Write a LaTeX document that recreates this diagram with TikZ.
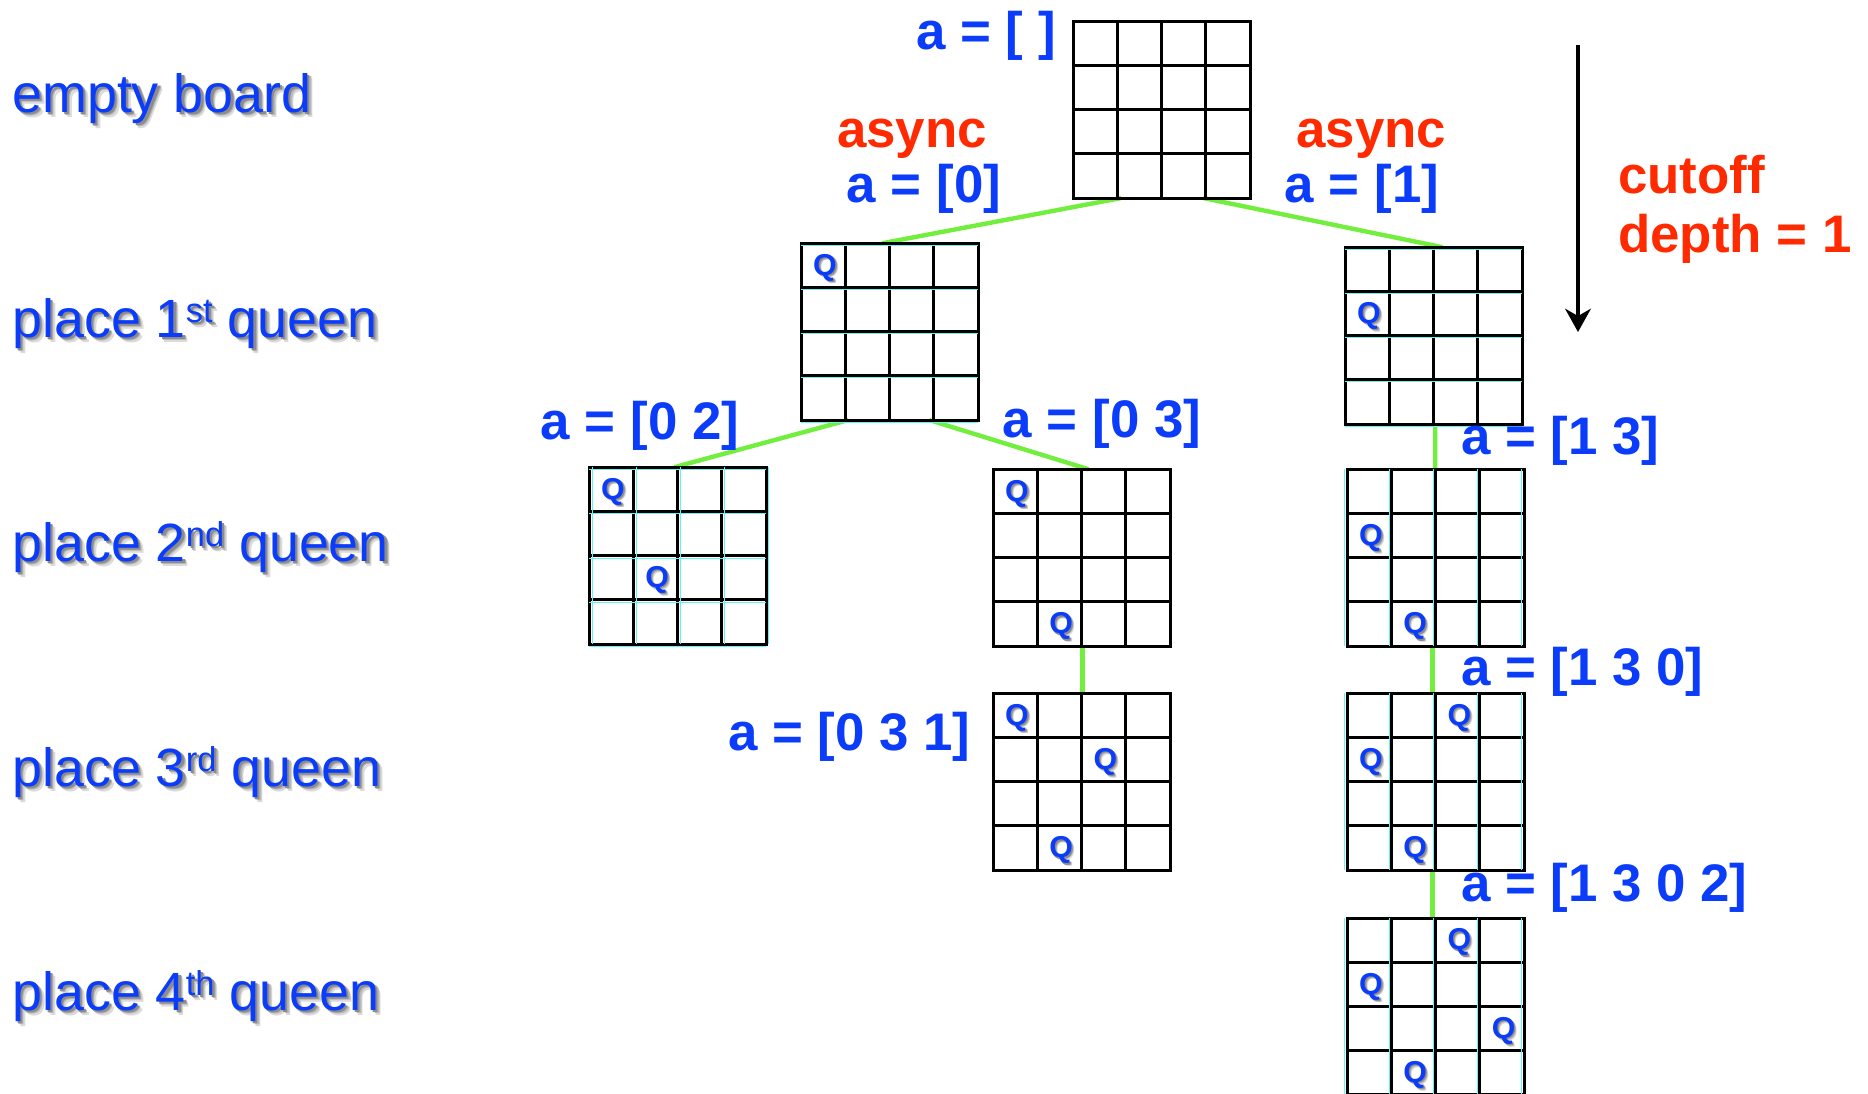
\documentclass[tikz,border=0pt]{standalone}
\usepackage{fontspec}
\setmainfont{Liberation Sans}
\usetikzlibrary{arrows.meta, calc, backgrounds}
\definecolor{qblue}{HTML}{0A3CFA}
\definecolor{hotred}{HTML}{FF2A00}
\definecolor{lime}{HTML}{72EE3E}
\definecolor{stray}{HTML}{66F2F2}

% soft drop shadow behind a piece of text
\newlength{\shoff}
\newcommand{\shadowed}[1]{%
  \rlap{\kern1.7\shoff\raisebox{-1.7\shoff}{\color{black!14}#1}}%
  \rlap{\kern1.25\shoff\raisebox{-1.25\shoff}{\color{black!28}#1}}%
  \rlap{\kern0.8\shoff\raisebox{-0.8\shoff}{\color{black!45}#1}}%
  #1}
\newcommand{\ordsup}[1]{\raisebox{10.5pt}{\fontsize{24.5}{24.5}\selectfont #1}}

\def\cell{1.105}

% a 4x4 board: name, top-left corner
\newcommand{\board}[2]{%
  \node[board] (#1) at (#2) {};
  \foreach \k in {1,2,3} {
    \draw[cellline] ($(#1.north west)+(\k*\cell,0)$) -- ($(#1.south west)+(\k*\cell,0)$);
    \draw[cellline] ($(#1.north west)+(0,-\k*\cell)$) -- ($(#1.north east)+(0,-\k*\cell)$);
  }
}
% queens on a board, given as row/col
\newcommand{\queens}[2]{%
  \foreach \r/\c in {#2}
    \node[queen] (#1q\r\c) at ($(#1.north west)+({(\c+0.5)*\cell},{-(\r+0.5)*\cell})$) {\shadowed{Q}};
}
% stray cyan copies of the grid lines
\newcommand{\strayrows}[2]{%
  \foreach \k in {0,...,4}
    \draw[strayline] ($(#1.north west)+(0,-\k*\cell)+(#2)$) -- ($(#1.north east)+(0,-\k*\cell)+(#2)$);
}
\newcommand{\straycols}[2]{%
  \foreach \k in {0,...,4}
    \draw[strayline] ($(#1.north west)+(\k*\cell,0)+(#2)$) -- ($(#1.south west)+(\k*\cell,0)+(#2)$);
}

\begin{document}
\begin{tikzpicture}[
  board/.style={draw, line width=0.075cm, minimum size=4.42cm, inner sep=0pt,
                outer sep=0pt, anchor=north west},
  cellline/.style={line width=0.075cm},
  strayline/.style={stray, line width=0.6pt},
  queen/.style={text=qblue, inner sep=0pt, xshift=0.04cm, yshift=-0.09cm,
                font=\fontsize{21.5}{21.5}\selectfont\bfseries\setlength{\shoff}{1.2pt}},
  link/.style={lime, line width=0.11cm},
  rowlabel/.style={text=qblue, anchor=base west, inner sep=0pt,
                   font=\fontsize{38.3}{44}\selectfont\setlength{\shoff}{2.1pt}},
  arr/.style={text=qblue, anchor=base, inner sep=0pt,
              font=\fontsize{37.6}{44}\selectfont\bfseries},
  note/.style={text=hotred, inner sep=0pt,
               font=\fontsize{37.6}{44}\selectfont\bfseries},
]

\clip (0,0) rectangle (46.7,-27.325);

% Row labels
\node[rowlabel] (empty) at (0.3,-2.8)    {\shadowed{empty board}};
\node[rowlabel] (place1) at (0.3,-8.425) {\shadowed{place 1\ordsup{st} queen}};
\node[rowlabel] (place2) at (0.3,-14.03) {\shadowed{place 2\ordsup{nd} queen}};
\node[rowlabel] (place3) at (0.3,-19.65) {\shadowed{place 3\ordsup{rd} queen}};
\node[rowlabel] (place4) at (0.3,-25.25) {\shadowed{place 4\ordsup{th} queen}};

% === Boards ===
\board{root}{26.83,-0.53}

\board{b0}{20.03,-6.08}
\strayrows{b0}{0,-0.05}
\queens{b0}{0/0}

\board{b1}{33.63,-6.18}
\strayrows{b1}{0,-0.05}
\queens{b1}{1/0}

\board{b02}{14.73,-11.68}
\strayrows{b02}{0,-0.06}
\straycols{b02}{0.07,0}
\queens{b02}{0/0, 2/1}

\board{b03}{24.83,-11.73}
\queens{b03}{0/0, 3/1}

\board{b13}{33.68,-11.73}
\straycols{b13}{-0.06,0}
\queens{b13}{1/0, 3/1}

\board{b031}{24.83,-17.33}
\queens{b031}{0/0, 1/2, 3/1}

\board{b130}{33.68,-17.33}
\straycols{b130}{-0.06,0}
\queens{b130}{0/2, 1/0, 3/1}

\board{b1302}{33.68,-22.95}
\straycols{b1302}{-0.06,0}
\queens{b1302}{0/2, 1/0, 2/3, 3/1}

% === Tree edges ===
\begin{pgfonlayer}{background}
  \draw[link] ($(root.south west)+(1.2,0)$) -- ($(b0.north west)+(2.03,0)$);
  \draw[link] ($(root.south west)+(3.25,0)$) -- ($(b1.north west)+(2.43,0)$);
  \draw[link] ($(b0.south west)+(1.18,0)$) -- ($(b02.north west)+(2.13,0)$);
  \draw[link] ($(b0.south west)+(3.2,0)$) -- ($(b03.north west)+(2.38,0)$);
  \draw[link] ($(b1.south west)+(2.25,0)$) -- ($(b13.north west)+(2.2,0)$);
  \draw[link] ($(b03.south west)+(2.23,0)$) -- ($(b031.north west)+(2.23,0)$);
  \draw[link] ($(b13.south west)+(2.13,0)$) -- ($(b130.north west)+(2.13,0)$);
  \draw[link] ($(b130.south west)+(2.13,0)$) -- ($(b1302.north west)+(2.13,0)$);
\end{pgfonlayer}

% === Partial solutions ===
\node[arr] (aroot) at (24.65,-1.225) {a = [ ]};
\node[note, anchor=base] (async0) at (22.8,-3.675) {async};
\node[arr] (a0) at (23.1,-5.05) {a = [0]};
\node[note, anchor=base] (async1) at (34.28,-3.675) {async};
\node[arr] (a1) at (34.05,-5.05) {a = [1]};
\node[arr] (a02) at (16.0,-10.98) {a = [0 2]};
\node[arr] (a03) at (27.55,-10.93) {a = [0 3]};
\node[arr] (a031) at (21.23,-18.75) {a = [0 3 1]};
\node[arr, anchor=base west] (a13) at (36.52,-11.35) {a = [1 3]};
\node[arr, anchor=base west] (a130) at (36.52,-17.13) {a = [1 3 0]};
\node[arr, anchor=base west] (a1302) at (36.52,-22.53) {a = [1 3 0 2]};

% === Cutoff ===
\coordinate (cuttop) at (39.45,-1.125);
\coordinate (cutbot) at (39.45,-8.3);
\draw[-{Stealth[length=5.8mm, width=6.4mm, inset=1.8mm]}, line width=0.1cm] (cuttop) -- (cutbot);
\node[note, anchor=base west] (cutoff) at (40.45,-4.825) {cutoff};
\node[note, anchor=base west] (depth) at (40.45,-6.3) {depth = 1};

\end{tikzpicture}
\end{document}
